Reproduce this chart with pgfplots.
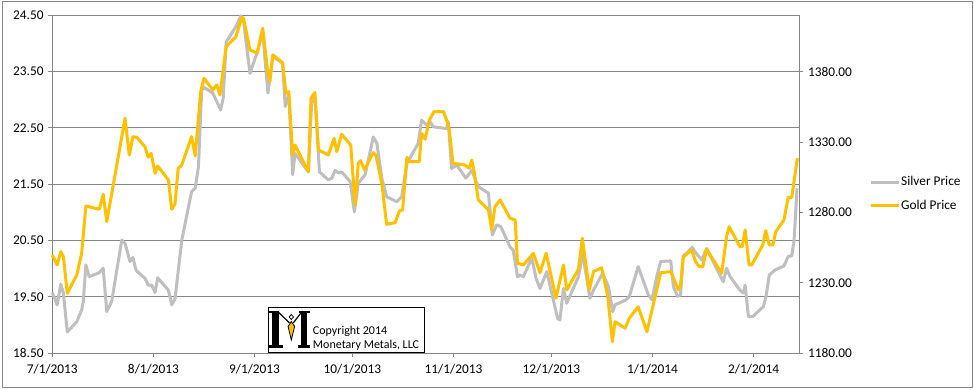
\documentclass[border=0pt]{standalone}
\usepackage{fontspec}
\setmainfont{Carlito}
\usepackage{pgfplots}
\pgfplotsset{compat=1.18}
\definecolor{gridgray}{RGB}{134,134,134}
\definecolor{silvercol}{RGB}{191,191,191}
\definecolor{goldcol}{RGB}{255,192,0}
\begin{document}
\begin{tikzpicture}
\useasboundingbox (0,0) rectangle (730.5pt,291.75pt);
\fill[white] (0,0) rectangle (730.5pt,291.75pt);
\draw[gridgray, line width=0.75pt] (1.5pt,1.5pt) rectangle (729pt,290.25pt);
\pgfplotsset{
 commonax/.style={
  at={(39.225pt,26.775pt)}, anchor=south west, scale only axis,
  width=560.25pt, height=253.5pt, xmin=0, xmax=229, clip=false,
  tick align=outside, major tick length=3pt,
  tick style={gridgray, line width=0.75pt},
  axis line style={-, gridgray, line width=0.75pt},
  ticklabel style={font=\fontsize{10}{12}\selectfont, text=black},
  /pgf/number format/assume math mode=true,
 }
}
\begin{axis}[commonax, axis x line*=bottom, axis y line*=left,
  ymin=18.5, ymax=24.5, ytick={18.5,19.5,20.5,21.5,22.5,23.5,24.5},
  yticklabel style={/pgf/number format/.cd, fixed, fixed zerofill, precision=2},
  xtick={0,31,62,92,123,153,184,215},
  xticklabels={7/1/2013,8/1/2013,9/1/2013,10/1/2013,11/1/2013,12/1/2013,1/1/2014,2/1/2014},
  xticklabel style={yshift=-2pt},
  ymajorgrids, grid style={gridgray, line width=0.75pt}]
\addplot[silvercol, line width=2.25pt, line join=round] coordinates {
(0,19.58) (1.5,19.36) (2.6,19.73) (3.4,19.57) (4.6,18.88) (7.5,19.06) (9.0,19.27) (9.5,19.42)
(10.3,20.07) (11.3,19.86) (14.4,19.93) (15.6,20.01) (16.7,19.24) (18.2,19.42) (21.3,20.51) (22.3,20.45)
(23.8,20.13) (24.7,20.20) (25.7,19.97) (28.4,19.83) (29.4,19.71) (30.5,19.71) (31.5,19.58) (32.3,19.84)
(35.6,19.62) (36.6,19.36) (37.6,19.46) (39.7,20.51) (42.7,21.37) (43.8,21.43) (44.8,21.81) (45.8,23.17)
(46.5,23.22) (49.2,23.12) (51.6,22.82) (52.4,23.03) (53.3,24.03) (56.3,24.30) (57.8,24.49) (58.6,24.42)
(60.6,23.47) (62.8,23.84) (64.5,24.20) (66.1,23.12) (67.6,23.77) (70.6,23.65) (71.4,22.88) (72.5,23.09)
(73.7,21.67) (74.4,22.05) (78.5,21.72) (79.5,22.94) (80.5,23.06) (81.9,21.72) (84.6,21.58) (85.7,21.61)
(86.7,21.75) (87.7,21.70) (88.7,21.72) (91.3,21.55) (92.6,21.01) (93.8,21.52) (95.9,21.67) (98.4,22.34)
(99.5,22.23) (101.0,21.61) (102.5,21.28) (105.6,21.19) (107.1,21.28) (108.7,21.87) (112.2,22.23) (113.2,22.64)
(114.8,22.55) (115.8,22.61) (116.8,22.52) (120.9,22.49) (121.4,22.61) (122.4,21.78) (124.0,21.84) (126.8,21.61)
(128.6,21.75) (129.9,21.55) (130.6,21.46) (133.7,21.34) (134.9,20.60) (136.2,20.78) (137.5,20.75) (140.3,20.39)
(141.3,20.33) (142.6,19.86) (143.4,19.89) (144.4,19.86) (147.0,20.19) (148.3,19.83) (149.5,19.65) (151.6,19.95)
(154.9,19.12) (155.6,19.09) (156.7,19.65) (157.7,19.39) (161.3,19.86) (162.6,20.28) (164.8,19.48) (165.9,19.62)
(168.7,19.92) (170.5,19.68) (171.8,19.24) (172.5,19.36) (175.9,19.45) (176.9,19.51) (179.6,20.04) (182.7,19.54)
(183.8,19.45) (185.3,19.86) (186.5,20.13) (189.6,20.14) (190.4,19.68) (191.7,19.51) (192.6,19.54) (193.4,20.22)
(196.2,20.38) (197.0,20.30) (199.1,20.16) (200.6,20.36) (205.7,19.77) (206.7,20.01) (207.8,19.86) (210.8,19.62)
(211.8,19.57) (212.4,19.71) (213.4,19.15) (214.7,19.15) (218.0,19.33) (218.8,19.51) (219.8,19.89) (221.6,19.98)
(224.3,20.05) (225.6,20.22) (226.7,20.23) (227.4,20.51) (228.3,21.43)
};
\end{axis}
\begin{axis}[commonax, axis x line=none, axis y line*=right,
  ymin=1180, ymax=1420, ytick={1180,1230,1280,1330,1380},
  yticklabel style={/pgf/number format/.cd, fixed, fixed zerofill, precision=2, 1000 sep={}},
  legend style={at={(1.0937,0.4717)}, anchor=west, draw=none, fill=none, inner sep=0pt,
    row sep=7pt, font=\fontsize{10}{12}\selectfont, nodes={inner xsep=0.5pt, inner ysep=1pt}},
  legend cell align=left,
  legend image code/.code={\draw[#1] (0pt,0pt) -- (21pt,0pt);}]
\addlegendimage{silvercol, line width=2.25pt}
\addlegendentry{Silver Price}
\addplot[goldcol, line width=2.25pt, line join=round] coordinates {
(0,1249.8) (1.5,1242.7) (2.6,1252.2) (3.4,1248.6) (4.6,1222.6) (7.5,1235.6) (9.0,1251.0) (10.3,1284.6)
(14.4,1282.3) (15.6,1292.9) (16.7,1273.5) (22.3,1346.9) (23.6,1320.8) (24.7,1333.8) (25.9,1333.4) (28.4,1326.7)
(29.4,1319.2) (30.3,1322.0) (31.5,1307.8) (32.3,1313.0) (35.6,1303.1) (36.6,1282.3) (37.6,1286.0) (38.6,1311.4)
(39.7,1313.7) (42.7,1333.8) (43.8,1320.1) (45.5,1365.8) (46.5,1375.3) (49.2,1367.0) (50.4,1370.5) (51.4,1363.4)
(53.3,1397.7) (56.3,1404.8) (58.1,1418.6) (58.6,1417.9) (60.6,1395.4) (62.8,1393.1) (64.5,1410.8) (65.9,1382.4)
(66.7,1372.9) (67.6,1391.9) (70.6,1386.4) (71.6,1364.7) (72.5,1365.8) (73.7,1320.8) (74.4,1327.9) (78.5,1309.0)
(79.3,1361.1) (80.5,1365.1) (81.6,1324.4) (84.6,1320.8) (86.4,1332.7) (87.2,1323.2) (88.7,1335.5) (91.5,1327.9)
(92.8,1285.3) (93.8,1314.9) (94.5,1316.8) (95.7,1310.2) (98.4,1322.5) (99.2,1320.8) (101.0,1300.7) (102.5,1271.6)
(105.1,1272.8) (106.4,1281.1) (107.4,1281.8) (108.7,1319.2) (109.4,1316.1) (112.5,1316.1) (113.2,1336.2) (114.3,1332.0)
(115.6,1345.7) (117.0,1351.6) (119.9,1351.6) (121.2,1343.6) (121.7,1338.6) (122.8,1314.9) (126.5,1313.7) (127.8,1311.4)
(128.6,1317.3) (129.4,1307.8) (130.6,1288.9) (133.7,1281.8) (134.7,1267.6) (135.7,1284.1) (137.3,1288.9) (140.3,1275.9)
(141.9,1274.7) (142.6,1243.9) (144.4,1242.7) (147.5,1251.0) (149.5,1237.2) (151.4,1251.0) (154.4,1219.1) (156.7,1242.7)
(157.7,1225.0) (161.3,1239.7) (162.5,1261.7) (164.6,1225.0) (165.9,1238.0) (168.4,1240.8) (170.3,1220.2) (171.7,1188.2)
(172.5,1202.4) (175.6,1197.8) (176.9,1204.9) (179.6,1213.1) (182.3,1195.3) (186.5,1237.2) (189.6,1238.0) (191.9,1225.0)
(192.6,1228.5) (193.4,1248.2) (196.0,1253.4) (197.2,1245.1) (198.3,1241.5) (199.4,1241.5) (200.6,1253.9) (205.2,1236.8)
(206.7,1262.8) (207.5,1269.9) (210.8,1255.7) (211.5,1255.7) (212.4,1267.6) (213.6,1242.7) (214.4,1242.7) (217.8,1256.9)
(218.7,1267.1) (219.8,1256.9) (220.9,1256.9) (221.8,1266.4) (224.3,1274.7) (225.6,1290.8) (226.7,1290.8) (228.4,1318.5)
};
\addlegendentry{Gold Price}
\end{axis}
\begin{scope}[shift={(0pt,291.75pt)}, x=0.75pt, y=-0.75pt]
\draw[fill=white, draw=black, line width=0.75pt] (268,308) rectangle (424.5,352.5);
\fill[black] (272.3,312) rectangle (278.7,346);
\fill[black] (301.3,312) rectangle (307,346);
\fill[black] (269.3,310.8) rectangle (279,313.3);
\fill[black] (298.7,310.8) rectangle (310.3,313.3);
\fill[black] (269.3,345.3) rectangle (282.7,347.7);
\fill[black] (298,345.3) rectangle (310.3,347.7);
\draw[black, line width=0.9pt] (278.7,312.5) -- (289.5,323);
\draw[black, line width=0.9pt] (301.3,312.5) -- (293.2,323);
\draw[black, line width=0.6pt] (291.3,314.5) -- (293.5,317) -- (291.3,319.5) -- (289.1,317) -- cycle;
\draw[black, fill=goldcol, line width=0.6pt] (291.3,321.5) -- (294.6,326.5) -- (291.3,340) -- (288.1,326.5) -- cycle;
\node[anchor=base west, inner sep=0pt, font=\fontsize{9}{10.5}\selectfont] at (312.7,334.7) {Copyright 2014};
\node[anchor=base west, inner sep=0pt, font=\fontsize{9}{10.5}\selectfont] at (312.7,348.7) {Monetary Metals, LLC};
\end{scope}
\end{tikzpicture}
\end{document}
